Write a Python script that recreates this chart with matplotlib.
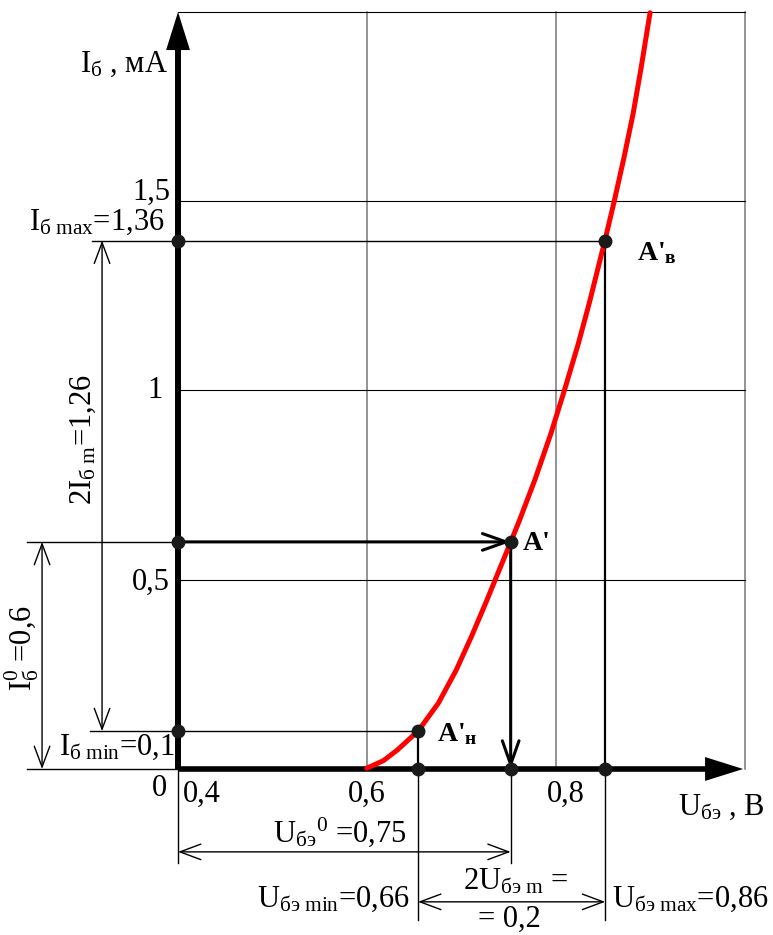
import matplotlib
matplotlib.use("Agg")
import matplotlib.pyplot as plt

plt.rcParams["font.family"] = ["Liberation Serif", "DejaVu Serif"]
plt.rcParams["mathtext.fontset"] = "custom"
plt.rcParams["mathtext.rm"] = "Liberation Serif"
plt.rcParams["mathtext.it"] = "Liberation Serif:italic"
plt.rcParams["mathtext.bf"] = "Liberation Serif:bold"

# input characteristic I_b(U_be)
u_curve = [0.5997, 0.6173, 0.6320, 0.6543, 0.6755, 0.6945, 0.7105, 0.7255, 0.7355,
           0.7521, 0.7615, 0.7779, 0.7944, 0.8087, 0.8235, 0.8352, 0.8519,
           0.8614, 0.8718, 0.8817, 0.8900, 0.8995]
i_curve = [0.002, 0.022, 0.050, 0.101, 0.174, 0.262, 0.350, 0.438, 0.499,
           0.600, 0.658, 0.766, 0.885, 0.999, 1.123, 1.231, 1.398,
           1.498, 1.614, 1.733, 1.852, 1.998]

# operating points: A'н, A', A'в (as drawn)
u_pts = [0.654, 0.752, 0.852]
i_pts = [0.100, 0.600, 1.396]
pt_names = ["н", "", "в"]

x_grid = [0.6, 0.8, 1.0]
y_grid = [0.5, 1.0, 1.5, 2.0]
x_ticks = [0.4, 0.6, 0.8]
x_tick_labels = ["0,4", "0,6", "0,8"]
y_ticks = [0.5, 1.0, 1.5]
y_tick_labels = ["0,5", "1", "1,5"]

fig = plt.figure(figsize=(7.73, 9.35), dpi=100)
ax = fig.add_axes([0, 0, 1, 1])
ax.set_xlim(0.2116, 1.0296)
ax.set_ylim(-0.4386, 2.0317)
ax.axis("off")

FS = 22
x0, y0 = 0.4, 0.0

# grid
for xg in x_grid:
    ax.plot([xg, xg], [0, 2.0], color="#777777", lw=1.1, zorder=1)
for yg in y_grid:
    ax.plot([x0, 1.0], [yg, yg], color="black", lw=0.8, zorder=1)

# axes with filled arrowheads
ax.plot([x0, x0], [0, 1.92], color="black", lw=4.3, solid_capstyle="butt", zorder=3)
ax.plot([x0, 0.965], [0, 0], color="black", lw=4.0, solid_capstyle="butt", zorder=3)
head = dict(arrowstyle="-|>,head_length=1.37,head_width=0.43", lw=0, fc="black",
            mutation_scale=20, shrinkA=0, shrinkB=0)
ax.annotate("", xy=(x0, 2.0), xytext=(x0, 1.85), arrowprops=head, zorder=4)
ax.annotate("", xy=(0.998, 0), xytext=(0.9, 0), arrowprops=head, zorder=4)

# red curve
ax.plot(u_curve, i_curve, color="#ff0000", lw=3.6, solid_capstyle="round",
        solid_joinstyle="round", zorder=5)

u_min, u_0, u_max = u_pts
i_min, i_0, i_max = i_pts

# projection lines
thin = dict(color="black", lw=1.0, zorder=2)
ax.plot([0.2402, x0], [0, 0], **thin)
ax.plot([0.2402, x0], [i_0, i_0], **thin)
ax.plot([0.3069, u_min], [i_min, i_min], **thin)
ax.plot([0.309, u_max], [i_max, i_max], **thin)
ax.plot([u_min, u_min], [i_min, 0], color="black", lw=1.6, zorder=2)
ax.plot([u_max, u_max], [i_max, 0], color="black", lw=1.6, zorder=2)
ax.plot([x0, x0], [0, -0.248], **thin)
ax.plot([u_0, u_0], [0, -0.248], **thin)
ax.plot([u_min, u_min], [0, -0.399], **thin)
ax.plot([u_max, u_max], [0, -0.399], **thin)

# thick arrows to and from A'
big = dict(arrowstyle="->,head_length=0.85,head_width=0.3", lw=2.2, color="black",
           mutation_scale=20, shrinkA=0, shrinkB=0)
ax.annotate("", xy=(u_0, i_0), xytext=(x0, i_0), arrowprops=big, zorder=4)
ax.annotate("", xy=(u_0, 0), xytext=(u_0, i_0), arrowprops=big, zorder=4)

# dimension arrows
dim = dict(arrowstyle="<->,head_length=0.75,head_width=0.28", lw=1.0, color="black",
           mutation_scale=20, shrinkA=0, shrinkB=0)
ax.annotate("", xy=(0.3196, i_min), xytext=(0.3196, i_max), arrowprops=dim)
ax.annotate("", xy=(0.2561, 0), xytext=(0.2561, i_0), arrowprops=dim)
ax.annotate("", xy=(x0, -0.219), xytext=(u_0, -0.219), arrowprops=dim)
ax.annotate("", xy=(u_min, -0.351), xytext=(u_max, -0.351), arrowprops=dim)

# dots
dot = dict(marker="o", ms=9, color="#1a1a1a", ls="none", zorder=6)
ax.plot(u_pts, i_pts, **dot)
ax.plot([x0] * 3, i_pts, **dot)
ax.plot(u_pts, [0] * 3, **dot)

# tick labels
for xt, lab in zip(x_ticks, x_tick_labels):
    ha = "left" if xt == 0.4 else "center"
    xpos = 0.4053 if xt == 0.4 else xt + (0.0106 if xt == 0.8 else 0)
    ax.text(xpos, -0.087, lab, fontsize=FS, ha=ha, va="baseline")
for yt, lab in zip(y_ticks, y_tick_labels):
    if yt == 1.0:
        ax.text(0.384, yt, lab, fontsize=FS, ha="right", va="center")
    else:
        ax.text(0.3915, yt - 0.027 if yt == 0.5 else yt + 0.003, lab,
                fontsize=FS, ha="right", va="baseline")
ax.text(0.380, -0.0713, "0", fontsize=FS, ha="center", va="baseline")

# axis titles
ax.text(0.3894, 1.841, r"I$_{\mathrm{б}}$ , мА", fontsize=FS, ha="right", va="baseline")
ax.text(0.929, -0.1215, r"U$_{\mathrm{бэ}}$ , В", fontsize=FS, ha="left", va="baseline")

# annotations
ax.text(0.386, 1.424, r"I$_{\mathrm{б\ max}}$=1,36", fontsize=FS, ha="right", va="baseline")
ax.text(0.397, 0.037, r"I$_{\mathrm{б\ min}}$=0,1", fontsize=FS, ha="right", va="baseline")
ax.text(0.2995, 0.869, r"2I$_{\mathrm{б\ m}}$=1,26", fontsize=FS, ha="center", va="center",
        rotation=90)
ax.text(0.235, 0.320, r"I$_{\mathrm{б}}^{0}$ =0,6", fontsize=FS, ha="center", va="center",
        rotation=90)
ax.text(0.6423, -0.193, r"U$_{\mathrm{бэ}}$$^{0}$ =0,75", fontsize=FS, ha="right", va="baseline")
ax.text(0.6455, -0.3646, r"U$_{\mathrm{бэ\ min}}$=0,66", fontsize=FS, ha="right", va="baseline")
ax.text(0.8593, -0.3646, r"U$_{\mathrm{бэ\ max}}$=0,86", fontsize=FS, ha="left", va="baseline")
ax.text(0.7577, -0.3197, r"2U$_{\mathrm{бэ\ m}}$ =", fontsize=FS, ha="center", va="baseline")
ax.text(0.751, -0.4174, "= 0,2", fontsize=FS, ha="center", va="baseline")

# operating point labels
lab_pos = [(0.674, 0.074), (0.765, 0.5786), (0.8857, 1.345)]
for (lx, ly), nm in zip(lab_pos, pt_names):
    s = "A'" if not nm else r"A'$_{\mathbf{%s}}$" % nm
    ax.text(lx, ly, s, fontsize=FS - 2, fontweight="bold", ha="left", va="baseline")

fig.savefig("out.png", dpi=100)
